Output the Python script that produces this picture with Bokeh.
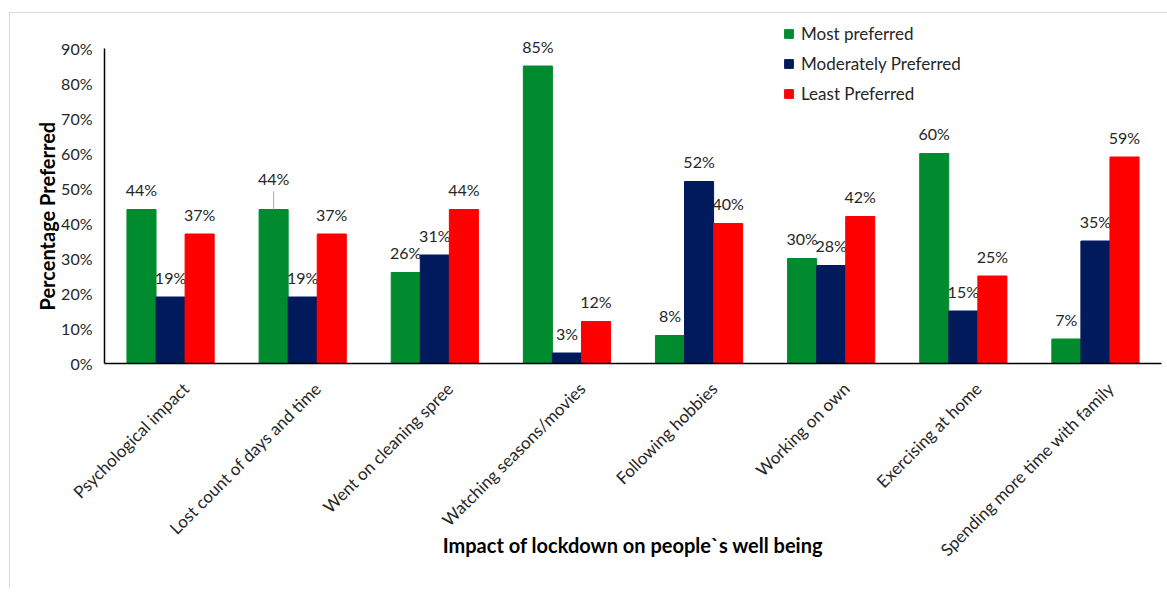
import math
from bokeh.plotting import figure
from bokeh.models import (ColumnDataSource, Range1d, NumeralTickFormatter,
                          Legend, LegendItem, FixedTicker, Title)
from bokeh.transform import dodge
from bokeh.core.properties import value
from bokeh.embed import file_html
from bokeh.resources import INLINE

categories = ["Psychological impact", "Lost count of days and time", "Went on cleaning spree",
              "Watching seasons/movies", "Following hobbies", "Working on own",
              "Exercising at home", "Spending more time with family"]
most_preferred = [0.44, 0.44, 0.26, 0.85, 0.08, 0.30, 0.60, 0.07]
moderately_preferred = [0.19, 0.19, 0.31, 0.03, 0.52, 0.28, 0.15, 0.35]
least_preferred = [0.37, 0.37, 0.44, 0.12, 0.40, 0.42, 0.25, 0.59]
series_names = ["Most preferred", "Moderately Preferred", "Least Preferred"]
y_ticks = [0.0, 0.1, 0.2, 0.3, 0.4, 0.5, 0.6, 0.7, 0.8, 0.9]

colors = ["#008C2E", "#001A5C", "#FF0000"]
FONT = "Lato"
TXT = "#262626"

n = len(categories)
centers = [i + 0.5 for i in range(n)]  # category slot centres on the numeric x scale

p = figure(x_range=Range1d(0, n), y_range=Range1d(0, 1.0),
           width=1158, height=576, output_backend="svg", toolbar_location=None,
           min_border_left=94, min_border_right=7, min_border_top=0, min_border_bottom=226,
           margin=(12, 0, 0, 9))
p.styles = {"border-top": "1px solid #d9d9d9", "border-left": "1px solid #d9d9d9"}
p.outline_line_color = None
p.xgrid.grid_line_color = None
p.ygrid.grid_line_color = None
p.background_fill_color = "white"
p.border_fill_color = "white"

offsets = [-0.22, 0.0, 0.22]
renderers = []
for name, vals, off, col in zip(series_names, [most_preferred, moderately_preferred, least_preferred], offsets, colors):
    src = ColumnDataSource(dict(x=centers, top=vals, lab=[f"{round(v*100)}%" for v in vals]))
    r = p.vbar(x=dodge("x", off), top="top", width=0.22, source=src,
               fill_color=col, line_color=col, line_width=1)
    renderers.append(r)
    # data labels (second green label is lifted with a leader line, as in the original)
    yoff = [-20] * len(vals)
    if name == "Most preferred":
        yoff[1] = -31
    src.data["yoff"] = yoff
    p.text(x=dodge("x", off), y="top", text="lab", source=src,
           text_align="center", text_baseline="middle", y_offset="yoff",
           text_font=value(FONT), text_font_size="16px", text_color=TXT)

# leader line for the lifted label
lead_src = ColumnDataSource(dict(x=[centers[1]], y0=[most_preferred[1]],
                                 y1=[most_preferred[1] + 18 / 349]))
p.segment(x0=dodge("x", -0.22), x1=dodge("x", -0.22),
          y0="y0", y1="y1", source=lead_src, line_color="#a6a6a6", line_width=1)

# category axis: rotated labels hang slightly right of the slot centre, as in the original
shift = 0.114
label_pos = [c + shift for c in centers]
xax = p.xaxis[0]
xax.ticker = FixedTicker(ticks=label_pos)
xax.major_label_overrides = {pos: c for pos, c in zip(label_pos, categories)}
xax.major_label_orientation = math.pi / 4
xax.major_label_standoff = 22
xax.axis_label = "Impact of lockdown on people`s well being"
xax.axis_label_standoff = -38

# y axis
p.yaxis.ticker = FixedTicker(ticks=y_ticks)
p.yaxis.bounds = (0, 0.9)
p.yaxis.formatter = NumeralTickFormatter(format="0%")
p.yaxis.major_label_standoff = 12

for ax in [xax, p.yaxis[0]]:
    ax.axis_line_color = "black"
    ax.axis_line_width = 1.5
    ax.major_tick_line_color = None
    ax.minor_tick_line_color = None
    ax.major_tick_out = 0
    ax.major_tick_in = 0
    ax.minor_tick_out = 0
    ax.minor_tick_in = 0
    ax.major_label_text_font = FONT
    ax.major_label_text_font_size = "16px"
    ax.major_label_text_color = TXT
    ax.axis_label_text_font = FONT
    ax.axis_label_text_font_style = "bold"
    ax.axis_label_text_font_size = "20px"
    ax.axis_label_text_color = "black"
xax.major_label_text_font_size = "17px"

# y-axis title as a side title so it can sit where the original has it
p.add_layout(Title(text="Percentage Preferred", align="left", offset=53, standoff=0,
                   text_font=FONT, text_font_style="bold", text_font_size="20px",
                   text_color="black"), "left")

legend = Legend(items=[LegendItem(label=nm, renderers=[r]) for nm, r in zip(series_names, renderers)],
                location=(679, 259), glyph_width=11, glyph_height=11, label_height=20,
                spacing=9, padding=5, margin=0, label_standoff=7,
                label_text_font=FONT, label_text_font_size="17px", label_text_color=TXT,
                border_line_color=None, background_fill_alpha=0)
p.add_layout(legend)

open("out.html", "w").write(file_html(p, INLINE))
